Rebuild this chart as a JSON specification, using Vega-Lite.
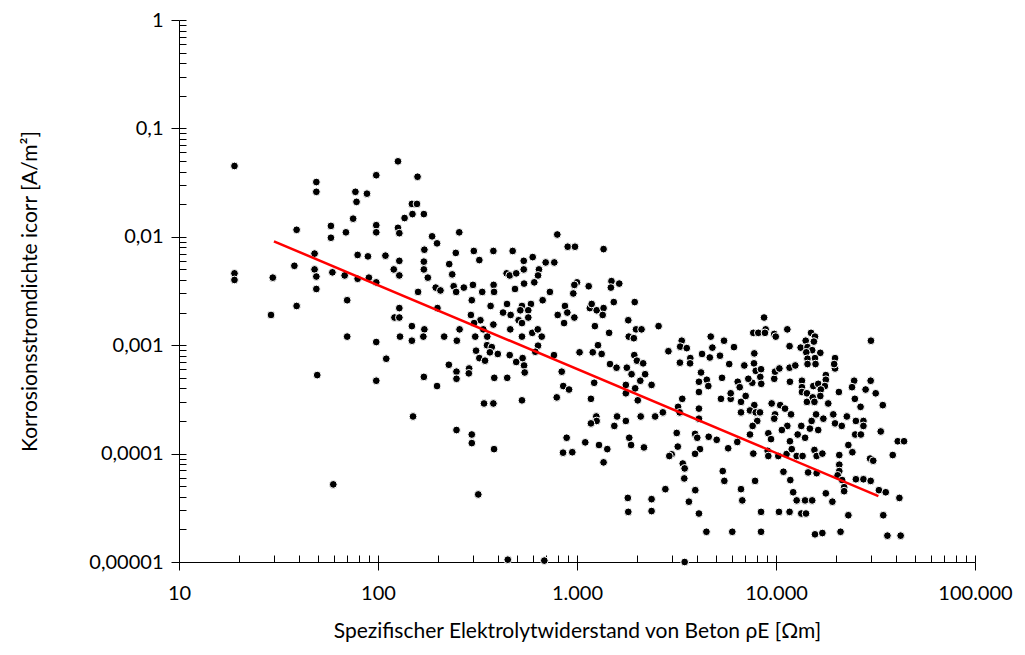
{
"$schema": "https://vega.github.io/schema/vega-lite/v6.json",
"width": 796, "height": 542,
"autosize": "none",
"padding": {"left": 179, "top": 20, "right": 50, "bottom": 93},
"background": "white",
"config": {"view": {"stroke": null}, "font": "Lato",
  "axis": {"grid": false, "domainColor": "black", "tickColor": "black", "labelColor": "black", "titleColor": "black", "labelFont": "Lato", "titleFont": "Lato", "labelFontSize": 20, "titleFontSize": 21, "titleFontWeight": "normal"}},
"datasets": {
"pts": [
{"rho":19,"i":0.045},{"rho":49,"i":0.032},{"rho":49,"i":0.026},{"rho":98,"i":0.037},{"rho":77,"i":0.026},{"rho":88,"i":0.025},{"rho":78,"i":0.021},{"rho":75,"i":0.0147},{"rho":58,"i":0.0126},{"rho":39,"i":0.0116},{"rho":58,"i":0.0098},{"rho":69,"i":0.011},{"rho":98,"i":0.0128},{"rho":98,"i":0.011},{"rho":79,"i":0.0068},{"rho":89,"i":0.0066},{"rho":48,"i":0.007},{"rho":38,"i":0.0054},{"rho":48,"i":0.005},{"rho":49,"i":0.0043},{"rho":59,"i":0.0047},{"rho":68,"i":0.0044},{"rho":79,"i":0.0041},{"rho":90,"i":0.0042},{"rho":98,"i":0.0038},{"rho":19,"i":0.0046},{"rho":19,"i":0.004},{"rho":29.6,"i":0.0042},{"rho":49,"i":0.0033},{"rho":70,"i":0.0026},{"rho":39,"i":0.0023},{"rho":29,"i":0.0019},{"rho":70,"i":0.0012},{"rho":98,"i":0.00107},{"rho":98,"i":0.00047},{"rho":49.5,"i":0.00053},{"rho":59.6,"i":0.000052},
{"rho":126,"i":0.0497},{"rho":158,"i":0.0358},{"rho":148,"i":0.0201},{"rho":157,"i":0.0201},{"rho":149,"i":0.0162},{"rho":170,"i":0.0162},{"rho":136,"i":0.0149},{"rho":126,"i":0.0121},{"rho":128,"i":0.0108},{"rho":256,"i":0.011},{"rho":796,"i":0.0105},{"rho":187,"i":0.0101},{"rho":198,"i":0.0087},{"rho":171,"i":0.0076},{"rho":246,"i":0.0071},{"rho":303,"i":0.0074},{"rho":380,"i":0.0074},{"rho":475,"i":0.0074},{"rho":323,"i":0.0061},{"rho":109,"i":0.0067},{"rho":128,"i":0.006},{"rho":170,"i":0.0059},{"rho":228,"i":0.0056},{"rho":540,"i":0.006},{"rho":599,"i":0.0065},{"rho":696,"i":0.0058},{"rho":769,"i":0.0058},{"rho":120,"i":0.005},{"rho":128,"i":0.0044},{"rho":170,"i":0.005},{"rho":178,"i":0.0042},{"rho":236,"i":0.0045},{"rho":443,"i":0.0046},{"rho":459,"i":0.0044},{"rho":495,"i":0.0046},{"rho":540,"i":0.005},{"rho":644,"i":0.005},{"rho":637,"i":0.0044},{"rho":542,"i":0.0037},{"rho":610,"i":0.0038},{"rho":159,"i":0.0031},{"rho":195,"i":0.0034},{"rho":206,"i":0.0032},{"rho":240,"i":0.0035},{"rho":247,"i":0.0031},{"rho":270,"i":0.0034},{"rho":300,"i":0.0036},{"rho":334,"i":0.0031},{"rho":381,"i":0.0036},{"rho":383,"i":0.0031},{"rho":488,"i":0.0033},{"rho":731,"i":0.0031},{"rho":296,"i":0.0026},
{"rho":128,"i":0.0022},{"rho":121,"i":0.0018},{"rho":128,"i":0.0018},{"rho":199,"i":0.0022},{"rho":368,"i":0.0023},{"rho":445,"i":0.0024},{"rho":529,"i":0.0023},{"rho":587,"i":0.0024},{"rho":672,"i":0.0026},{"rho":425,"i":0.002},{"rho":464,"i":0.0019},{"rho":519,"i":0.0021},{"rho":569,"i":0.0021},{"rho":509,"i":0.0017},{"rho":569,"i":0.0018},{"rho":529,"i":0.0016},{"rho":800,"i":0.0019},{"rho":293,"i":0.0019},{"rho":327,"i":0.0017},{"rho":304,"i":0.0016},{"rho":380,"i":0.00155},{"rho":148,"i":0.0015},{"rho":171,"i":0.0014},{"rho":169,"i":0.0012},{"rho":129,"i":0.0012},{"rho":148,"i":0.0011},{"rho":215,"i":0.0012},{"rho":257,"i":0.0014},{"rho":249,"i":0.0011},{"rho":308,"i":0.0012},{"rho":338,"i":0.0014},{"rho":354,"i":0.0012},{"rho":462,"i":0.0014},{"rho":529,"i":0.0012},{"rho":596,"i":0.0013},{"rho":635,"i":0.0014},{"rho":665,"i":0.0012},{"rho":637,"i":0.00099},{"rho":617,"i":0.00087},{"rho":766,"i":0.00081},{"rho":311,"i":0.00089},{"rho":353,"i":0.001},{"rho":373,"i":0.00096},{"rho":365,"i":0.00086},{"rho":400,"i":0.00083},{"rho":323,"i":0.00076},{"rho":345,"i":0.00072},{"rho":459,"i":0.00081},{"rho":495,"i":0.0007},{"rho":533,"i":0.00076},{"rho":542,"i":0.00065},{"rho":546,"i":0.00056},{"rho":110,"i":0.00075},{"rho":227,"i":0.00066},{"rho":248,"i":0.00057},{"rho":248,"i":0.00049},{"rho":287,"i":0.00061},{"rho":286,"i":0.00055},{"rho":170,"i":0.00051},{"rho":198,"i":0.00042},{"rho":384,"i":0.0005},{"rho":446,"i":0.0005},{"rho":791,"i":0.00033},{"rho":529,"i":0.00031},{"rho":341,"i":0.00029},{"rho":380,"i":0.00029},{"rho":150,"i":0.00022},{"rho":248,"i":0.000165},{"rho":296,"i":0.00015},{"rho":296,"i":0.000125},{"rho":383,"i":0.00011},{"rho":319,"i":0.000042},{"rho":449,"i":0.0000105},{"rho":685,"i":0.0000103},
{"rho":898,"i":0.0081},{"rho":977,"i":0.0081},{"rho":1360,"i":0.0077},{"rho":1000,"i":0.0038},{"rho":970,"i":0.0036},{"rho":1145,"i":0.0035},{"rho":1490,"i":0.0039},{"rho":1630,"i":0.0037},{"rho":1480,"i":0.0034},{"rho":958,"i":0.003},{"rho":870,"i":0.0023},{"rho":894,"i":0.002},{"rho":970,"i":0.0018},{"rho":861,"i":0.0016},{"rho":1160,"i":0.0022},{"rho":1185,"i":0.0024},{"rho":1256,"i":0.0021},{"rho":1360,"i":0.0022},{"rho":1346,"i":0.0019},{"rho":1530,"i":0.0025},{"rho":1950,"i":0.0025},{"rho":1810,"i":0.0017},{"rho":1980,"i":0.0014},{"rho":2110,"i":0.0014},{"rho":1820,"i":0.0012},{"rho":1930,"i":0.00116},{"rho":2570,"i":0.0015},{"rho":1230,"i":0.0015},{"rho":1450,"i":0.0013},{"rho":1030,"i":0.00086},{"rho":1200,"i":0.00086},{"rho":1330,"i":0.00083},{"rho":1275,"i":0.001},{"rho":1940,"i":0.00081},{"rho":2000,"i":0.00072},{"rho":2150,"i":0.00068},{"rho":1465,"i":0.00067},{"rho":1580,"i":0.00062},{"rho":1780,"i":0.00062},{"rho":1880,"i":0.00054},{"rho":2200,"i":0.00054},{"rho":2080,"i":0.00047},{"rho":1760,"i":0.00043},{"rho":1760,"i":0.00036},{"rho":1960,"i":0.0004},{"rho":2370,"i":0.00043},{"rho":2020,"i":0.00031},{"rho":838,"i":0.00057},{"rho":853,"i":0.00042},{"rho":912,"i":0.00039},{"rho":1220,"i":0.00045},{"rho":1175,"i":0.00032},{"rho":1590,"i":0.00022},{"rho":1540,"i":0.00018},{"rho":1760,"i":0.0002},{"rho":2090,"i":0.00022},{"rho":2470,"i":0.00022},{"rho":2700,"i":0.00024},{"rho":1250,"i":0.00022},{"rho":1255,"i":0.0002},{"rho":1175,"i":0.00019},{"rho":2880,"i":0.00088},{"rho":3360,"i":0.0011},{"rho":3300,"i":0.00097},{"rho":3560,"i":0.00094},{"rho":3290,"i":0.00069},{"rho":3710,"i":0.00076},{"rho":3700,"i":0.00068},{"rho":4250,"i":0.00083},{"rho":4700,"i":0.0012},{"rho":4790,"i":0.00095},{"rho":4650,"i":0.00077},{"rho":5230,"i":0.0008},{"rho":5480,"i":0.0011},{"rho":6150,"i":0.00096},{"rho":5820,"i":0.00067},{"rho":4200,"i":0.00056},{"rho":4100,"i":0.00046},{"rho":4490,"i":0.00048},{"rho":4570,"i":0.00042},{"rho":4100,"i":0.00037},{"rho":5355,"i":0.0005},{"rho":6420,"i":0.00046},{"rho":3380,"i":0.00032},{"rho":3220,"i":0.00027},{"rho":3280,"i":0.00024},{"rho":4100,"i":0.00026},{"rho":4100,"i":0.00021},{"rho":5290,"i":0.00032},{"rho":5920,"i":0.00032},{"rho":5920,"i":0.00036},{"rho":3170,"i":0.000155},{"rho":3920,"i":0.000152},{"rho":4020,"i":0.00014},{"rho":4590,"i":0.000143},{"rho":5035,"i":0.000134},
{"rho":887,"i":0.00014},{"rho":851,"i":0.000102},{"rho":947,"i":0.000103},{"rho":1100,"i":0.000127},{"rho":1290,"i":0.00012},{"rho":1420,"i":0.00011},{"rho":1360,"i":0.000083},{"rho":1830,"i":0.00014},{"rho":1870,"i":0.00012},{"rho":2170,"i":0.000114},{"rho":3210,"i":0.000116},{"rho":2990,"i":0.0000985},{"rho":2910,"i":0.000095},{"rho":4150,"i":0.00011},{"rho":3920,"i":0.0000995},{"rho":5750,"i":0.000112},{"rho":6390,"i":0.000128},{"rho":3400,"i":0.000081},{"rho":3475,"i":0.000073},{"rho":3460,"i":0.000059},{"rho":5400,"i":0.000069},{"rho":5500,"i":0.000056},{"rho":2780,"i":0.000047},{"rho":3930,"i":0.000046},{"rho":3650,"i":0.000036},{"rho":4100,"i":0.000028},{"rho":1800,"i":0.000039},{"rho":1810,"i":0.000029},{"rho":2370,"i":0.000038},{"rho":2370,"i":0.0000295},{"rho":4470,"i":0.000019},{"rho":6030,"i":0.000019},{"rho":3475,"i":0.00001},
{"rho":8710,"i":0.0018},{"rho":7690,"i":0.0013},{"rho":8150,"i":0.0013},{"rho":8870,"i":0.0014},{"rho":8800,"i":0.0013},{"rho":9800,"i":0.00127},{"rho":9970,"i":0.0012},{"rho":11400,"i":0.0014},{"rho":15000,"i":0.0013},{"rho":15700,"i":0.0012},{"rho":14100,"i":0.0011},{"rho":15500,"i":0.00108},{"rho":13300,"i":0.00095},{"rho":14400,"i":0.00096},{"rho":15200,"i":0.0009},{"rho":14200,"i":0.00086},{"rho":16700,"i":0.00085},{"rho":14400,"i":0.00075},{"rho":15700,"i":0.00076},{"rho":14400,"i":0.00067},{"rho":15800,"i":0.00067},{"rho":11700,"i":0.00098},{"rho":30000,"i":0.0011},{"rho":7780,"i":0.00084},{"rho":6930,"i":0.00065},{"rho":7750,"i":0.00068},{"rho":7910,"i":0.00058},{"rho":8410,"i":0.0006},{"rho":8340,"i":0.00051},{"rho":7600,"i":0.00045},{"rho":8430,"i":0.00044},{"rho":6570,"i":0.00041},{"rho":7260,"i":0.00049},{"rho":9800,"i":0.00049},{"rho":9890,"i":0.00057},{"rho":10400,"i":0.00061},{"rho":11700,"i":0.00062},{"rho":12500,"i":0.00065},{"rho":11750,"i":0.00046},{"rho":19800,"i":0.00076},{"rho":19800,"i":0.00061},{"rho":19600,"i":0.00067},{"rho":17800,"i":0.00053},{"rho":17800,"i":0.00048},{"rho":13500,"i":0.00047},{"rho":13500,"i":0.00041},{"rho":13500,"i":0.00037},{"rho":15400,"i":0.00042},{"rho":16300,"i":0.00044},{"rho":17600,"i":0.00042},{"rho":16800,"i":0.00039},{"rho":14300,"i":0.00036},{"rho":14300,"i":0.0003},{"rho":15300,"i":0.00033},{"rho":15600,"i":0.0003},{"rho":16700,"i":0.00034},{"rho":18300,"i":0.00029},{"rho":20700,"i":0.00037},{"rho":24700,"i":0.00047},{"rho":24100,"i":0.00041},{"rho":24900,"i":0.00032},{"rho":26600,"i":0.00027},{"rho":29900,"i":0.00047},{"rho":28200,"i":0.00039},{"rho":31700,"i":0.00036},{"rho":34400,"i":0.00028},{"rho":6670,"i":0.0003},{"rho":7040,"i":0.00034},{"rho":9510,"i":0.00029},{"rho":10500,"i":0.00028},{"rho":11100,"i":0.00026},{"rho":7780,"i":0.00028},{"rho":7400,"i":0.00025},{"rho":7910,"i":0.00024},{"rho":8310,"i":0.00024},{"rho":6670,"i":0.00024},{"rho":9890,"i":0.00023},{"rho":9800,"i":0.00021},{"rho":11900,"i":0.00023},{"rho":8050,"i":0.0002},{"rho":15900,"i":0.00023},{"rho":17300,"i":0.00021},{"rho":15100,"i":0.0002},{"rho":19400,"i":0.00023},{"rho":19800,"i":0.00019},{"rho":21400,"i":0.00018},{"rho":22700,"i":0.00022},{"rho":25200,"i":0.0002},{"rho":27500,"i":0.0002},{"rho":27500,"i":0.00018},{"rho":11400,"i":0.00018},{"rho":10700,"i":0.000165},{"rho":7630,"i":0.00018},{"rho":13400,"i":0.00018},{"rho":14800,"i":0.00017},{"rho":16300,"i":0.000165},{"rho":33600,"i":0.00016},{"rho":9150,"i":0.000154},{"rho":7400,"i":0.00015},{"rho":12850,"i":0.00015},{"rho":25000,"i":0.00015},{"rho":26700,"i":0.00015},
{"rho":9440,"i":0.000136},{"rho":11750,"i":0.00013},{"rho":14000,"i":0.00014},{"rho":40900,"i":0.00013},{"rho":44000,"i":0.00013},{"rho":23100,"i":0.00012},{"rho":24200,"i":0.000103},{"rho":7690,"i":0.0001},{"rho":9080,"i":0.000106},{"rho":9150,"i":0.000095},{"rho":10270,"i":0.000095},{"rho":11300,"i":0.000099},{"rho":12000,"i":0.00011},{"rho":12700,"i":0.000095},{"rho":13600,"i":0.000095},{"rho":15600,"i":0.000108},{"rho":16000,"i":0.000095},{"rho":17100,"i":0.0001},{"rho":20800,"i":0.000097},{"rho":29700,"i":0.00009},{"rho":30800,"i":0.000086},{"rho":38600,"i":0.000097},{"rho":10900,"i":0.000068},{"rho":11800,"i":0.000057},{"rho":14500,"i":0.000067},{"rho":16000,"i":0.000066},{"rho":20800,"i":0.000079},{"rho":20800,"i":0.000069},{"rho":20400,"i":0.000063},{"rho":21500,"i":0.000057},{"rho":22000,"i":0.000049},{"rho":22000,"i":0.000045},{"rho":25200,"i":0.000058},{"rho":27500,"i":0.000058},{"rho":29900,"i":0.000056},{"rho":32900,"i":0.000046},{"rho":35600,"i":0.000044},{"rho":41700,"i":0.000039},{"rho":7850,"i":0.000056},{"rho":6670,"i":0.000047},{"rho":6770,"i":0.000037},{"rho":12200,"i":0.000044},{"rho":12700,"i":0.000037},{"rho":14000,"i":0.000037},{"rho":15200,"i":0.000037},{"rho":17800,"i":0.000043},{"rho":19200,"i":0.000036},{"rho":8410,"i":0.000029},{"rho":10350,"i":0.000029},{"rho":11700,"i":0.000029},{"rho":13400,"i":0.000028},{"rho":14150,"i":0.000028},{"rho":23100,"i":0.000027},{"rho":34600,"i":0.000027},{"rho":8410,"i":0.000019},{"rho":15700,"i":0.000018},{"rho":17100,"i":0.0000185},{"rho":21100,"i":0.000019},{"rho":36300,"i":0.0000175},{"rho":42300,"i":0.0000175}
],
"fit": [{"rho":30,"i":0.00908},{"rho":32700,"i":0.0000406}]
},
"layer": [
{"data": {"name": "pts"},
 "mark": {"type": "point", "shape": "circle", "filled": true, "size": 60, "fill": "black", "stroke": "white", "strokeWidth": 1, "opacity": 1},
 "encoding": {
  "x": {"field": "rho", "type": "quantitative", "scale": {"type": "log", "domain": [10, 100000], "nice": false},
        "axis": {"orient": "bottom", "values": [10, 100, 1000, 10000, 100000], "labelExpr": "replace(format(datum.value, ','), regexp(',', 'g'), '.')", "tickSize": 8, "labelPadding": 13, "labelFlush": false, "title": "Spezifischer Elektrolytwiderstand von Beton ρE [Ωm]", "titlePadding": 17}},
  "y": {"field": "i", "type": "quantitative", "scale": {"type": "log", "domain": [0.00001, 1], "nice": false},
        "axis": {"orient": "left", "values": [0.00001, 0.0001, 0.001, 0.01, 0.1, 1], "labelExpr": "datum.value >= 0.99 ? '1' : '0,' + pad('1', round(-log(datum.value)/LN10), '0', 'left')", "tickSize": 8, "labelPadding": 8, "labelFlush": false, "title": "Korrosionsstromdichte icorr [A/m²]", "titlePadding": 48}}
 }},
{"data": {"name": "fit"},
 "mark": {"type": "line", "color": "#FF0000", "strokeWidth": 2.5},
 "encoding": {
  "x": {"field": "rho", "type": "quantitative", "scale": {"type": "log", "domain": [10, 100000], "nice": false},
        "axis": {"orient": "bottom", "values": [10,20,30,40,50,60,70,80,90,100,200,300,400,500,600,700,800,900,1000,2000,3000,4000,5000,6000,7000,8000,9000,10000,20000,30000,40000,50000,60000,70000,80000,90000,100000], "labels": false, "domain": false, "tickSize": -7, "title": null}},
  "y": {"field": "i", "type": "quantitative", "scale": {"type": "log", "domain": [0.00001, 1], "nice": false},
        "axis": {"orient": "left", "values": [0.00001,0.00002,0.00003,0.00004,0.00005,0.00006,0.00007,0.00008,0.00009,0.0001,0.0002,0.0003,0.0004,0.0005,0.0006,0.0007,0.0008,0.0009,0.001,0.002,0.003,0.004,0.005,0.006,0.007,0.008,0.009,0.01,0.02,0.03,0.04,0.05,0.06,0.07,0.08,0.09,0.1,0.2,0.3,0.4,0.5,0.6,0.7,0.8,0.9,1], "labels": false, "domain": false, "tickSize": -7, "title": null}}
 }}
],
"resolve": {"axis": {"x": "independent", "y": "independent"}}
}
